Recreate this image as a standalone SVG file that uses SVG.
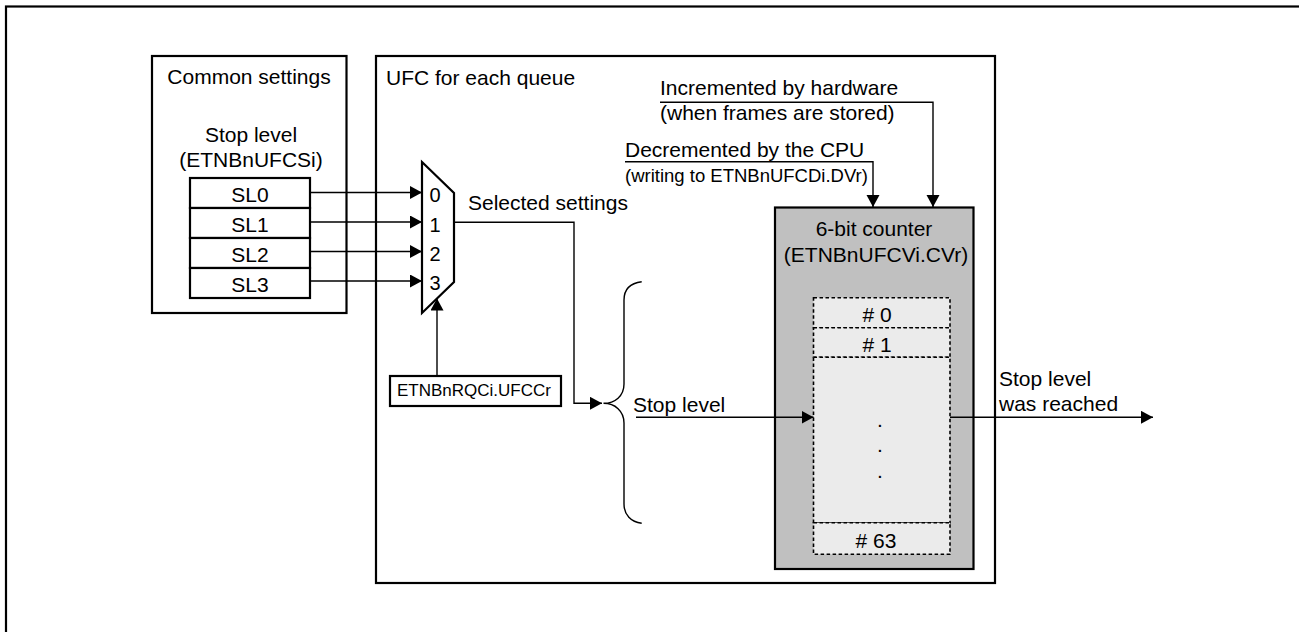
<svg xmlns="http://www.w3.org/2000/svg" width="1299" height="632" viewBox="0 0 1299 632">
<style>
text{font-family:"Liberation Sans",Arial,sans-serif;font-size:21px;fill:#000}
.box{fill:#fff;stroke:#000;stroke-width:2.2}
.ln{fill:none;stroke:#000;stroke-width:1.4}
.mid{text-anchor:middle}
.dash{fill:#ebebeb;stroke:#000;stroke-width:1.6;stroke-dasharray:3.5 2.5}
</style>
<defs>
<marker id="arr" markerUnits="userSpaceOnUse" markerWidth="14" markerHeight="14" refX="12" refY="6.5" orient="auto">
<path d="M0,0 L12,6.5 L0,13 Z" fill="#000"/>
</marker>
</defs>
<rect id="frame" x="6" y="6.5" width="1320" height="660" fill="none" stroke="#000" stroke-width="2.2"/>

<g id="common-settings">
<rect class="box" x="152" y="56" width="194.5" height="257"/>
<text class="mid" x="249" y="84">Common settings</text>
<text class="mid" x="251" y="141.5">Stop level</text>
<text class="mid" x="251" y="166.5">(ETNBnUFCSi)</text>
</g>
<g id="sl-registers">
<rect class="box" x="190" y="178" width="120" height="30"/>
<rect class="box" x="190" y="208" width="120" height="30"/>
<rect class="box" x="190" y="238" width="120" height="30"/>
<rect class="box" x="190" y="268" width="120" height="30"/>
<text class="mid" x="250" y="202.3">SL0</text>
<text class="mid" x="250" y="232.3">SL1</text>
<text class="mid" x="250" y="262.3">SL2</text>
<text class="mid" x="250" y="292.3">SL3</text>
</g>

<g id="ufc-queue">
<rect class="box" x="376" y="56" width="619" height="527"/>
<text x="386" y="85">UFC for each queue</text>
</g>

<g id="mux">
<path d="M422,162 L454,193 L454,282 L422,313 Z" fill="#fff" stroke="#000" stroke-width="2.2"/>
<text class="mid" x="435" y="201.7" style="font-size:20px">0</text>
<text class="mid" x="435" y="231.5" style="font-size:20px">1</text>
<text class="mid" x="435" y="261" style="font-size:20px">2</text>
<text class="mid" x="435" y="290.3" style="font-size:20px">3</text>
</g>

<g id="ufccr">
<rect class="box" x="390" y="376" width="171" height="30"/>
<text class="mid" x="474" y="396" style="font-size:17px">ETNBnRQCi.UFCCr</text>
</g>

<g id="counter">
<rect x="775" y="207.5" width="198.5" height="361.5" fill="#c0c0c0" stroke="#000" stroke-width="2.2"/>
<text class="mid" x="874" y="235.7">6-bit counter</text>
<text class="mid" x="876" y="262">(ETNBnUFCVi.CVr)</text>
</g>
<g id="counter-slots">
<rect class="dash" x="813.5" y="297.7" width="136.5" height="30"/>
<rect class="dash" x="813.5" y="327.7" width="136.5" height="29.6"/>
<rect class="dash" x="813.5" y="357.3" width="136.5" height="165.4"/>
<rect class="dash" x="813.5" y="522.7" width="136.5" height="31.6"/>
<text class="mid" x="877" y="321.7"># 0</text>
<text class="mid" x="877" y="351.7"># 1</text>
<text class="mid" x="880" y="427">.</text>
<text class="mid" x="880" y="452">.</text>
<text class="mid" x="880" y="477.5">.</text>
<text class="mid" x="876" y="548.3"># 63</text>
</g>

<g id="labels">
<text x="468" y="210">Selected settings</text>
<text x="660" y="95">Incremented by hardware</text>
<text x="660" y="120">(when frames are stored)</text>
<text x="625" y="156.5">Decremented by the CPU</text>
<text x="625" y="181.5" style="font-size:18.5px">(writing to ETNBnUFCDi.DVr)</text>
<text x="633" y="411.7">Stop level</text>
<text x="999" y="385.7">Stop level</text>
<text x="999" y="410.7">was reached</text>
</g>

<g id="connectors">
<line class="ln" x1="310" y1="192.5" x2="422" y2="192.5" marker-end="url(#arr)"/>
<line class="ln" x1="310" y1="222" x2="422" y2="222" marker-end="url(#arr)"/>
<line class="ln" x1="310" y1="251.5" x2="422" y2="251.5" marker-end="url(#arr)"/>
<line class="ln" x1="310" y1="281" x2="422" y2="281" marker-end="url(#arr)"/>
<line class="ln" x1="437" y1="376" x2="437" y2="298.5" marker-end="url(#arr)"/>
<polyline class="ln" points="454,222.3 574,222.3 574,403.3 602,403.3" marker-end="url(#arr)"/>
<path class="ln" d="M641.7,281.7 C631,283 624,289 624,300 L624,384 C624,396 615,403.3 603.5,403.3 C615,403.3 624,411 624,423 L624,504 C624,515 631,522 641.7,523.3"/>
<line class="ln" x1="636" y1="417.3" x2="813.5" y2="417.3" marker-end="url(#arr)"/>
<line class="ln" x1="950" y1="417.3" x2="1153" y2="417.3" marker-end="url(#arr)"/>
<polyline class="ln" points="660,102.3 933,102.3 933,207" marker-end="url(#arr)"/>
<polyline class="ln" points="625,161.7 873,161.7 873,207" marker-end="url(#arr)"/>
</g>
</svg>
